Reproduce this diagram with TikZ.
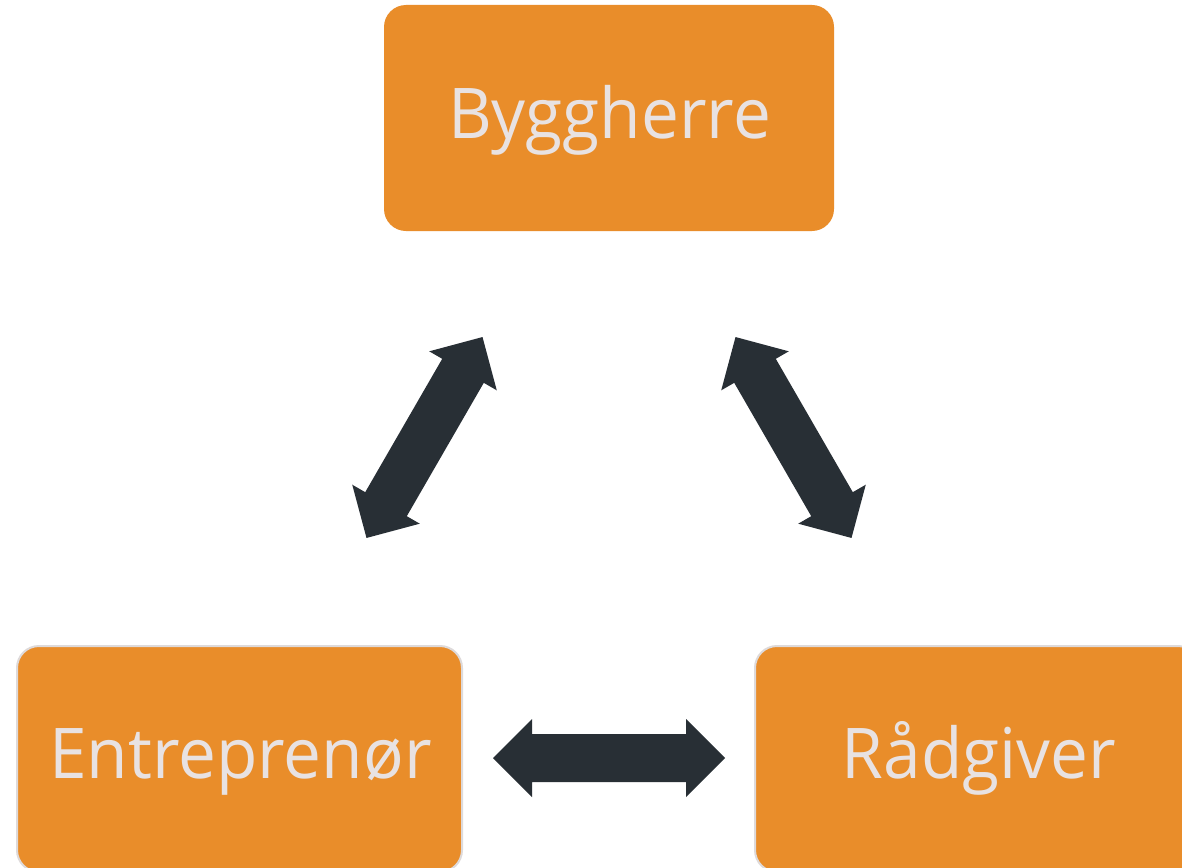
\documentclass[tikz,border=0pt]{standalone}
\usepackage{fontspec}
\newfontfamily\lblfont{Open Sans}[FakeStretch=0.965]
\definecolor{boxorange}{HTML}{E98D2A}
\definecolor{lbltext}{HTML}{E8E2E2}
\definecolor{arrowdark}{HTML}{282F35}
\definecolor{boxedge}{HTML}{DEDADA}
\tikzset{
  role/.style={fill=boxorange, rounded corners=22pt, inner sep=0pt},
  roleedge/.style={role, draw=boxedge, line width=2pt},
  lbl/.style={text=lbltext, font=\lblfont\fontsize{70}{84}\selectfont, anchor=base, inner sep=0pt},
  blockarrow/.style={fill=arrowdark},
}
\newcommand\dblarrow[3]{%
  \fill[blockarrow, shift={(#1,#2)}, rotate=#3]
    (-116,0) -- (-77,-39) -- (-77,-24) -- (77,-24) -- (77,-39) -- (116,0)
    -- (77,39) -- (77,24) -- (-77,24) -- (-77,39) -- cycle;}
\begin{document}
\begin{tikzpicture}[x=1pt,y=-1pt]
  \useasboundingbox (0,0) rectangle (1182,867);
  \clip (0,0) rectangle (1182,867);
  \fill[white] (0,0) rectangle (1182,867);
  % boxes
  \node[role, minimum width=450pt, minimum height=226pt] (bygg) at (609,118) {};
  \node[roleedge, minimum width=445pt, minimum height=226pt] (entr) at (239.5,759) {};
  \node[roleedge, minimum width=445pt, minimum height=226pt] (radg) at (977.5,759) {};
  % labels
  \node[lbl] (byggt) at (609.5,138) {Byggherre};
  \node[lbl] (entrt) at (240.5,778) {Entreprenør};
  \node[lbl] (radgt) at (979,778) {Rådgiver};
  % arrows
  \dblarrow{424.5}{437.5}{60}
  \dblarrow{793.5}{437.5}{-60}
  \dblarrow{609}{758}{0}
\end{tikzpicture}
\end{document}
